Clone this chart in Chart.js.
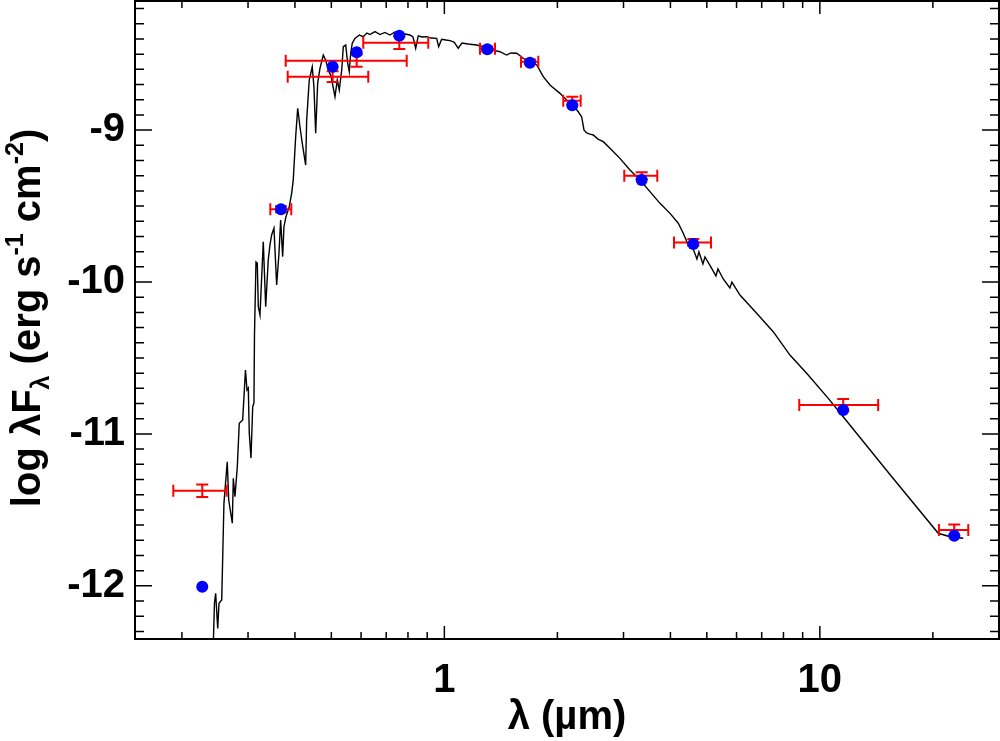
<!DOCTYPE html>
<html>
<head>
<meta charset="utf-8">
<script src="https://cdn.jsdelivr.net/npm/chart.js@4.4.0/dist/chart.umd.min.js"></script>
<style>
  html, body { margin: 0; padding: 0; background: #fff; }
  canvas { display: block; }
</style>
</head>
<body>
<canvas id="myChart" width="1000" height="741"></canvas>
<script>
// model spectrum: wavelength (micron) and log lambda*F_lambda
var specWave = [0.2424, 0.2442, 0.2460, 0.2491, 0.2511, 0.2553, 0.2588, 0.2641, 0.2665, 0.2724,
  0.2741, 0.2769, 0.2809, 0.2843, 0.2903, 0.2953, 0.2981, 0.3005, 0.3023, 0.3055,
  0.3087, 0.3111, 0.3121, 0.3150, 0.3175, 0.3195, 0.3228, 0.3294, 0.3343, 0.3396,
  0.3432, 0.3467, 0.3517, 0.3576, 0.3627, 0.3664, 0.3710, 0.3739, 0.3786, 0.3863,
  0.3920, 0.3959, 0.4018, 0.4068, 0.4125, 0.4184, 0.4272, 0.4298, 0.4367, 0.4448,
  0.4494, 0.4542, 0.4598, 0.4663, 0.4759, 0.4829, 0.4907, 0.4989, 0.5113, 0.5186,
  0.5250, 0.5328, 0.5381, 0.5461, 0.5528, 0.5582, 0.5631, 0.5685, 0.5780, 0.5935,
  0.6081, 0.6221, 0.6337, 0.6534, 0.6737, 0.6947, 0.7163, 0.7386, 0.7617, 0.7854,
  0.8098, 0.8249, 0.8387, 0.8522, 0.8717, 0.8973, 0.9211, 0.9539, 0.9656, 0.9835,
  1.010, 1.035, 1.061, 1.089, 1.114, 1.156, 1.219, 1.275, 1.349, 1.406,
  1.465, 1.504, 1.558, 1.622, 1.690, 1.762, 1.834, 1.911, 2.032, 2.117,
  2.187, 2.273, 2.321, 2.354, 2.393, 2.442, 2.492, 2.565, 2.650, 2.761,
  2.935, 3.121, 3.319, 3.528, 3.752, 3.990, 4.197, 4.327, 4.462, 4.601,
  4.706, 4.764, 4.882, 4.943, 5.097, 5.288, 5.353, 5.530, 5.761, 5.832,
  6.127, 6.787, 7.513, 8.324, 9.223, 10.53, 11.54, 15.37, 20.67, 22.21, 24.09]
var specFlux = [-12.39, -12.113, -12.049, -12.280, -12.115, -12.093, -11.457, -11.183, -11.435, -11.588,
  -11.292, -11.413, -11.216, -10.930, -10.908, -10.579, -10.711, -10.698, -10.994, -11.159,
  -10.821, -10.796, -10.349, -9.868, -9.875, -10.163, -10.217, -9.735, -10.163, -9.855,
  -9.756, -9.690, -9.646, -10.020, -9.811, -9.592, -9.833, -9.636, -9.570, -9.504,
  -9.416, -9.328, -9.043, -8.856, -8.978, -9.087, -9.230, -8.933, -8.670, -8.583,
  -8.714, -9.020, -8.692, -8.593, -8.506, -8.538, -8.604, -8.644, -8.780, -8.670,
  -8.736, -8.604, -8.451, -8.440, -8.560, -8.615, -8.494, -8.428, -8.396, -8.374,
  -8.385, -8.361, -8.371, -8.351, -8.371, -8.357, -8.374, -8.354, -8.371, -8.367,
  -8.374, -8.387, -8.461, -8.380, -8.387, -8.385, -8.394, -8.396, -8.451, -8.402,
  -8.407, -8.411, -8.420, -8.461, -8.427, -8.433, -8.440, -8.453, -8.473, -8.484,
  -8.506, -8.492, -8.494, -8.527, -8.550, -8.571, -8.648, -8.703, -8.758, -8.802,
  -8.828, -8.879, -8.912, -8.999, -9.019, -9.026, -9.032, -9.059, -9.076, -9.120,
  -9.186, -9.263, -9.328, -9.405, -9.482, -9.548, -9.613, -9.679, -9.756, -9.783,
  -9.849, -9.802, -9.881, -9.835, -9.891, -9.960, -9.914, -9.980, -10.039, -10.000,
  -10.086, -10.206, -10.327, -10.481, -10.601, -10.766, -10.887, -11.267, -11.654, -11.677, -11.687]

// synthetic photometry of the model (blue dots)
var modelWave = [0.2266, 0.3671, 0.5040, 0.5841, 0.7586, 1.301, 1.690, 2.191, 3.353, 4.601, 11.54, 22.80]
var modelFlux = [-12.006, -9.521, -8.583, -8.488, -8.378, -8.468, -8.556, -8.837, -9.328, -9.750, -10.843, -11.670]

// observed photometry (red error bars)
var obsWave   = [0.2266, 0.3671, 0.5040, 0.5841, 0.7586, 1.301, 1.690, 2.191, 3.353, 4.601, 11.54, 22.80]
var obsWaveLo = [0.1897, 0.3439, 0.3826, 0.3780, 0.6081, 1.244, 1.600, 2.073, 3.014, 4.088, 8.813, 20.76]
var obsWaveHi = [0.2632, 0.3911, 0.6271, 0.7938, 0.9060, 1.364, 1.779, 2.307, 3.690, 5.129, 14.30, 24.85]
var obsFlux   = [-11.374, -9.521, -8.648, -8.543, -8.425, -8.465, -8.550, -8.806, -9.300, -9.739, -10.810, -11.633]
var obsErr    = [0.041, 0.02, 0.036, 0.04, 0.041, 0.015, 0.015, 0.026, 0.022, 0.022, 0.04, 0.037]

// axis ticks
var xMajor = [1, 10]
var xMinor = [0.2, 0.3, 0.4, 0.5, 0.6, 0.7, 0.8, 0.9, 2, 3, 4, 5, 6, 7, 8, 9, 20]
var yMajor = [-12, -11, -10, -9]
var yMinor = []
for (var i = -123; i <= -82; i++) {
  if (i % 10 != 0) yMinor.push(i / 10)
}

var FONT = "'Liberation Sans', Arial, Helvetica, sans-serif"
var FONT_SIZE = 40
Chart.defaults.font.family = FONT
Chart.defaults.color = '#000'

function points(xs, ys) {
  var out = []
  for (var i = 0; i < xs.length; i++) out.push({x: xs[i], y: ys[i]})
  return out
}

function drawErrorBars(chart) {
  var ctx = chart.ctx, xs = chart.scales.x, ys = chart.scales.y
  ctx.save()
  ctx.strokeStyle = '#ff0000'
  ctx.lineWidth = 2
  for (var i = 0; i < obsWave.length; i++) {
    var px = xs.getPixelForValue(obsWave[i])
    var py = ys.getPixelForValue(obsFlux[i])
    var x0 = xs.getPixelForValue(obsWaveLo[i])
    var x1 = xs.getPixelForValue(obsWaveHi[i])
    var y0 = ys.getPixelForValue(obsFlux[i] - obsErr[i])
    var y1 = ys.getPixelForValue(obsFlux[i] + obsErr[i])
    ctx.beginPath()
    ctx.moveTo(x0, py); ctx.lineTo(x1, py)
    ctx.moveTo(x0, py - 6); ctx.lineTo(x0, py + 6)
    ctx.moveTo(x1, py - 6); ctx.lineTo(x1, py + 6)
    ctx.moveTo(px, y0); ctx.lineTo(px, y1)
    ctx.moveTo(px - 6, y0); ctx.lineTo(px + 6, y0)
    ctx.moveTo(px - 6, y1); ctx.lineTo(px + 6, y1)
    ctx.stroke()
  }
  ctx.restore()
}

// text with sub/superscripts: parts = [[text, 0 normal | 1 sub | 2 sup], ...]
function drawRich(ctx, parts, size, cx, baseY) {
  var big = 'bold ' + size + 'px ' + FONT
  var small = 'bold ' + Math.round(size * 0.62) + 'px ' + FONT
  var total = 0
  parts.forEach(function (p) {
    ctx.font = p[1] ? small : big
    total += ctx.measureText(p[0]).width
  })
  var x = cx - total / 2
  ctx.textAlign = 'left'
  ctx.textBaseline = 'alphabetic'
  parts.forEach(function (p) {
    ctx.font = p[1] ? small : big
    var dy = p[1] == 1 ? size * 0.22 : (p[1] == 2 ? -size * 0.42 : 0)
    ctx.fillText(p[0], x, baseY + dy)
    x += ctx.measureText(p[0]).width
  })
}

var sedPlugin = {
  id: 'sed',
  afterDatasetDraw: function (chart, args) {
    if (args.index == 1) drawErrorBars(chart)
  },
  afterDraw: function (chart) {
    var ctx = chart.ctx, a = chart.chartArea
    var xs = chart.scales.x, ys = chart.scales.y
    ctx.save()
    ctx.strokeStyle = '#000'
    ctx.lineWidth = 1.5
    ctx.beginPath()
    xMajor.concat(xMinor).forEach(function (v) {
      var len = xMajor.indexOf(v) >= 0 ? 13 : 7
      var px = xs.getPixelForValue(v)
      ctx.moveTo(px, a.bottom); ctx.lineTo(px, a.bottom - len)
      ctx.moveTo(px, a.top); ctx.lineTo(px, a.top + len)
    })
    yMajor.concat(yMinor).forEach(function (v) {
      var len = yMajor.indexOf(v) >= 0 ? 17 : 9
      var py = ys.getPixelForValue(v)
      ctx.moveTo(a.left, py); ctx.lineTo(a.left + len, py)
      ctx.moveTo(a.right, py); ctx.lineTo(a.right - len, py)
    })
    ctx.stroke()
    ctx.lineWidth = 2
    ctx.strokeRect(a.left, a.top, a.right - a.left, a.bottom - a.top)

    ctx.fillStyle = '#000'
    drawRich(ctx, [['\u03bb (\u00b5m)', 0]], FONT_SIZE, (a.left + a.right) / 2, 729)
    ctx.translate(40, 318)
    ctx.rotate(-Math.PI / 2)
    drawRich(ctx, [['log \u03bbF', 0], ['\u03bb', 1], [' (erg s', 0], ['-1', 2], [' cm', 0], ['-2', 2], [')', 0]], FONT_SIZE, 0, 0)
    ctx.restore()
  }
}

var ctx = document.getElementById('myChart').getContext('2d')
var chart = new Chart(ctx, {
  type: 'scatter',
  data: {
    datasets: [{
      label: 'model photometry',
      data: points(modelWave, modelFlux),
      pointRadius: 6,
      pointBackgroundColor: '#0000ff',
      pointBorderWidth: 0,
      order: 0
    }, {
      label: 'model spectrum',
      data: points(specWave, specFlux),
      showLine: true,
      borderColor: '#000000',
      borderWidth: 1.4,
      pointRadius: 0,
      fill: false,
      order: 1
    }]
  },
  options: {
    responsive: false,
    animation: false,
    layout: { autoPadding: false, padding: { top: 1, right: 1, left: 0, bottom: 0 } },
    plugins: { legend: { display: false }, tooltip: { enabled: false } },
    scales: {
      x: {
        type: 'logarithmic',
        min: 0.15,
        max: 30,
        grid: { display: false, drawTicks: false },
        border: { display: false },
        afterBuildTicks: function (axis) {
          axis.ticks = xMajor.map(function (v) { return {value: v} })
        },
        afterFit: function (axis) { axis.height = 102; axis.paddingLeft = 0; axis.paddingRight = 0 },
        ticks: {
          autoSkip: false, maxRotation: 0, padding: 18,
          font: { size: FONT_SIZE, weight: 'bold' },
          callback: function (v) { return String(v) }
        }
      },
      y: {
        type: 'linear',
        min: -12.35,
        max: -8.15,
        grid: { display: false, drawTicks: false },
        border: { display: false },
        afterBuildTicks: function (axis) {
          axis.ticks = yMajor.map(function (v) { return {value: v} })
        },
        afterFit: function (axis) { axis.width = 135; axis.paddingTop = 0; axis.paddingBottom = 0 },
        ticks: {
          autoSkip: false, padding: 10,
          font: { size: FONT_SIZE, weight: 'bold' },
          callback: function (v) { return String(v) }
        }
      }
    }
  },
  plugins: [sedPlugin]
})
</script>
</body>
</html>
